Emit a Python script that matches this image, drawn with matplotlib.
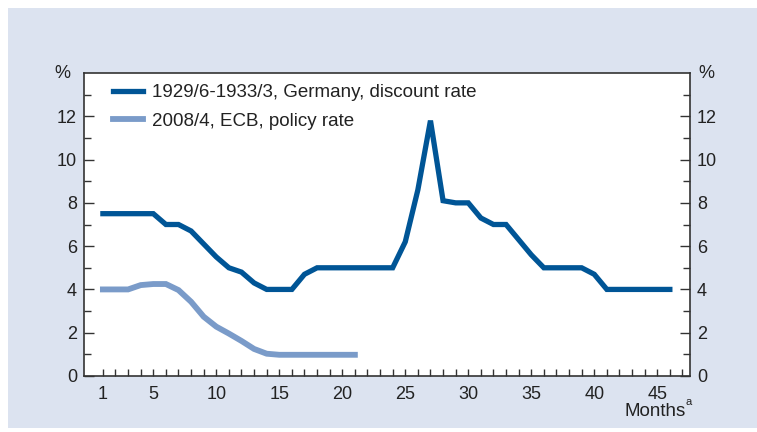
import matplotlib
matplotlib.use("Agg")
import matplotlib.pyplot as plt
from matplotlib.patches import Rectangle
from matplotlib.ticker import FixedLocator

plt.rcParams['font.family'] = ['Liberation Sans', 'DejaVu Sans']

months_de = list(range(1, 47))
germany = [7.5, 7.5, 7.5, 7.5, 7.5, 7.0, 7.0, 6.7, 6.1, 5.5,
           5.0, 4.8, 4.3, 4.0, 4.0, 4.0, 4.7, 5.0, 5.0, 5.0,
           5.0, 5.0, 5.0, 5.0, 6.2, 8.6, 11.8, 8.1, 8.0, 8.0,
           7.3, 7.0, 7.0, 6.3, 5.6, 5.0, 5.0, 5.0, 5.0, 4.7,
           4.0, 4.0, 4.0, 4.0, 4.0, 4.0]
months_ecb = list(range(1, 22))
ecb = [4.0, 4.0, 4.0, 4.2, 4.25, 4.25, 3.97, 3.43, 2.74, 2.28,
       1.96, 1.62, 1.25, 1.03, 0.98, 0.98, 0.98, 0.98, 0.98, 0.98, 0.98]

label_de = "1929/6-1933/3, Germany, discount rate"
label_ecb = "2008/4, ECB, policy rate"
xtick_major = [1, 5, 10, 15, 20, 25, 30, 35, 40, 45]
ytick_major = [0, 2, 4, 6, 8, 10, 12]

W, H = 757, 432
fig = plt.figure(figsize=(W / 100, H / 100), dpi=100)
fig.patch.set_facecolor('white')
bg = Rectangle((8 / W, 4 / H), 1 - 8 / W, (428 - 8) / H,
               transform=fig.transFigure, facecolor='#dce3f0',
               edgecolor='none', zorder=-5)
fig.patches.append(bg)

ax = fig.add_axes([84 / W, (H - 376) / H, (690 - 84) / W, (376 - 73) / H])
ax.set_zorder(2)
ax.set_facecolor('white')

c_de = '#005596'
c_ecb = '#7a9bc9'
ax.plot(months_de, germany, color=c_de, lw=3.8, solid_joinstyle='miter',
        label=label_de, zorder=3)
ax.plot(months_ecb, ecb, color=c_ecb, lw=4.2, solid_joinstyle='miter',
        label=label_ecb, zorder=2)

ax.set_xlim(-0.5, 47.6)
ax.set_ylim(0, 14)

ax.xaxis.set_major_locator(FixedLocator(xtick_major))
ax.xaxis.set_minor_locator(FixedLocator([m for m in range(1, 48) if m not in xtick_major]))
ax.yaxis.set_major_locator(FixedLocator(ytick_major))
ax.yaxis.set_minor_locator(FixedLocator([1, 3, 5, 7, 9, 11, 13]))

tc = '#222222'
fs = 13
ax.tick_params(axis='both', which='both', direction='in', color='#333333',
               labelsize=fs, labelcolor=tc, width=1.0)
ax.tick_params(axis='y', which='both', left=True, right=True,
               labelleft=True, labelright=True, pad=5)
ax.tick_params(axis='y', which='major', length=7)
ax.tick_params(axis='y', which='minor', length=5)
ax.tick_params(axis='x', which='both', length=5, pad=7)

for s in ax.spines.values():
    s.set_color('#333333')
    s.set_linewidth(1.2)

fig.text(62 / W, 1 - 73 / H, '%', fontsize=fs, color=tc, ha='center', va='center')
fig.text(706 / W, 1 - 73 / H, '%', fontsize=fs, color=tc, ha='center', va='center')
fig.text(686 / W, 1 - 412 / H, 'Months', fontsize=13.5, color=tc, ha='right', va='center')
fig.text(689 / W, 1 - 402 / H, 'a', fontsize=8, color=tc, ha='center', va='center')

leg = ax.legend(loc='upper left', bbox_to_anchor=(0.03, 1.0), frameon=False,
                fontsize=13.5, handlelength=1.6, handletextpad=0.45,
                labelspacing=0.6, borderaxespad=0.2, labelcolor=tc)

fig.savefig('out.png', dpi=100)
